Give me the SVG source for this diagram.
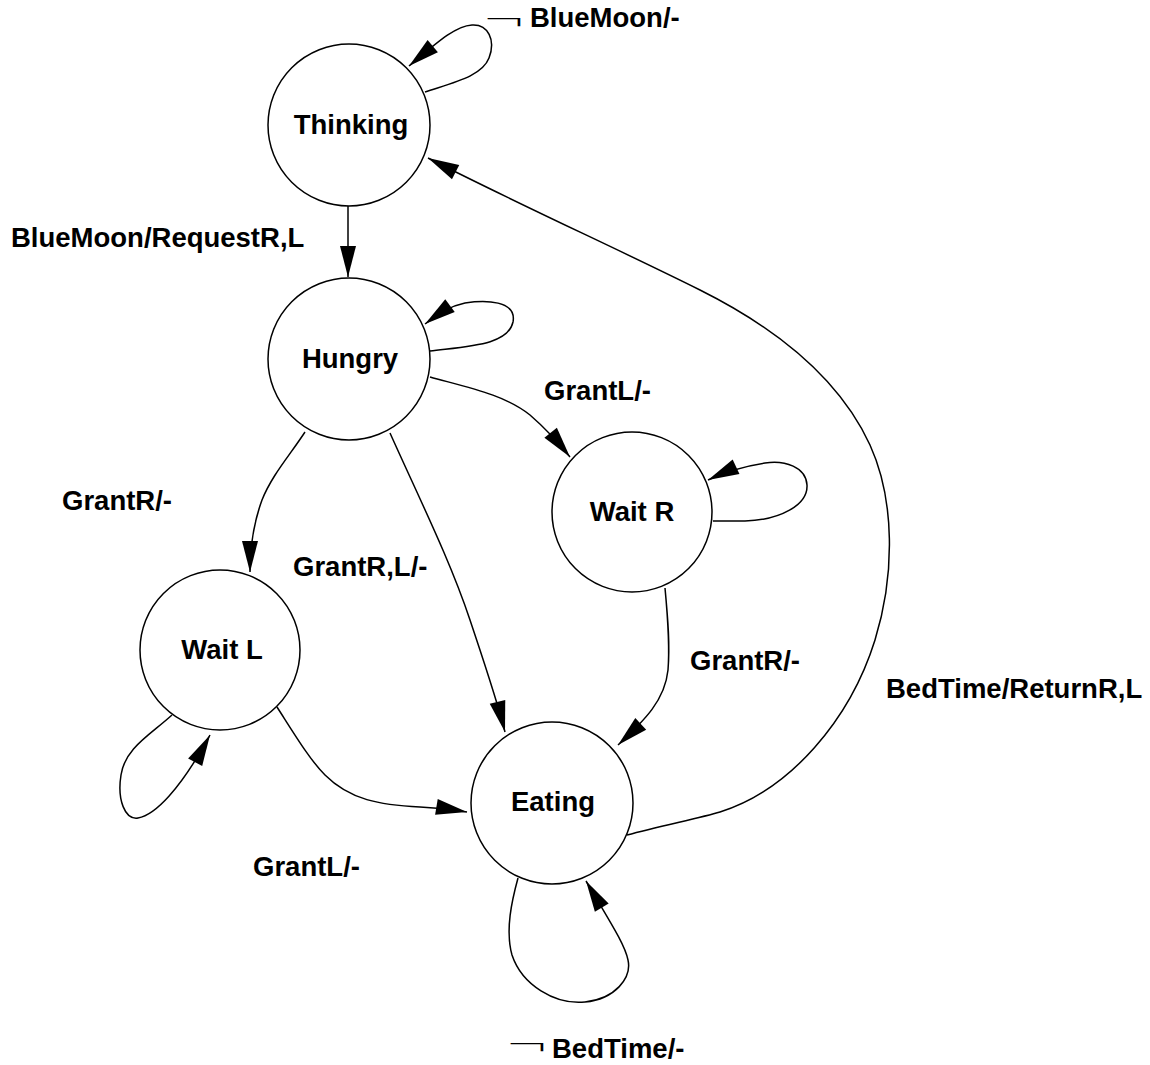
<svg xmlns="http://www.w3.org/2000/svg" width="1150" height="1065" viewBox="0 0 1150 1065">
  <style>
    .state { fill: #ffffff; stroke: #000000; stroke-width: 1.5; }
    .name { font-family: "Liberation Sans", Arial, Helvetica, sans-serif; font-weight: bold; font-size: 27.5px; fill: #000000; text-anchor: middle; }
    .label { font-family: "Liberation Sans", Arial, Helvetica, sans-serif; font-weight: bold; font-size: 27.5px; fill: #000000; }
    .not { font-family: "DejaVu Sans", sans-serif; font-weight: 200; font-size: 32px; fill: #000000; }
    .edge { fill: none; stroke: #000000; stroke-width: 1.5; marker-end: url(#arrow); }
  </style>
  <defs>
    <marker id="arrow" markerUnits="userSpaceOnUse" markerWidth="33" markerHeight="18" refX="31" refY="8" orient="auto" overflow="visible">
      <path d="M0,0 L31,8 L0,16 z" fill="#000000"/>
    </marker>
  </defs>
  <rect width="1150" height="1065" fill="#ffffff"/>

  <!-- transitions -->
  <g id="connectors">
    <!-- Thinking: self loop (not BlueMoon) -->
    <path class="edge" d="M425,92 C455,82 482,76 489,58 C496,40 488,24 472,25 C456,26 440,40 409,66"/>
    <!-- Thinking to Hungry -->
    <path class="edge" d="M348,206 L348,277"/>
    <!-- Hungry: self loop -->
    <path class="edge" d="M430,351 C470,346 508,345 513,322 C517,300 485,300 465,303 C450,306 440,313 425,324"/>
    <!-- Hungry to Wait R -->
    <path class="edge" d="M430,377 C470,388 505,395 530,415 C545,428 558,442 570,457"/>
    <!-- Hungry to Wait L -->
    <path class="edge" d="M305,432 C290,455 272,475 262,500 C254,522 250,545 250,572"/>
    <!-- Hungry to Eating -->
    <path class="edge" d="M390,433 C420,500 450,560 470,620 C485,665 497,700 505,732"/>
    <!-- Wait R: self loop -->
    <path class="edge" d="M713,521 L745,521 C780,520 808,505 807,485 C806,467 785,460 765,463 C745,466 725,472 708,480"/>
    <!-- Wait R to Eating -->
    <path class="edge" d="M665,588 C668,620 670,645 668,670 C665,700 645,720 618,745"/>
    <!-- Wait L: self loop -->
    <path class="edge" d="M172,715 C150,735 125,748 121,775 C117,800 125,820 138,818 C155,815 180,790 210,735"/>
    <!-- Wait L to Eating -->
    <path class="edge" d="M277,707 C295,735 310,760 325,775 C350,800 380,805 420,807 C440,808 455,810 467,812"/>
    <!-- Eating: self loop (not BedTime) -->
    <path class="edge" d="M518,878 C512,900 505,930 512,955 C522,985 555,1005 585,1002 C615,999 632,978 628,960 C625,945 612,925 586,881"/>
    <!-- Eating back to Thinking -->
    <path class="edge" d="M627,835 C660,826 700,818 720,812 C790,790 850,720 875,640 C895,575 895,500 870,445 C840,380 780,330 700,290 C620,250 520,205 428,158"/>
  </g>

  <!-- states -->
  <g id="thinking">
    <circle class="state" cx="349" cy="125" r="81"/>
    <text class="name" x="351" y="134">Thinking</text>
  </g>
  <g id="hungry">
    <circle class="state" cx="349" cy="359" r="81"/>
    <text class="name" x="350" y="368">Hungry</text>
  </g>
  <g id="wait-r">
    <circle class="state" cx="632" cy="512" r="80"/>
    <text class="name" x="632" y="521">Wait R</text>
  </g>
  <g id="wait-l">
    <circle class="state" cx="220" cy="650" r="80"/>
    <text class="name" x="222" y="659">Wait L</text>
  </g>
  <g id="eating">
    <circle class="state" cx="552" cy="803" r="81"/>
    <text class="name" x="553" y="811">Eating</text>
  </g>

  <!-- transition labels -->
  <g id="labels">
    <text class="not" transform="translate(482,31) scale(1.67,1)">¬</text>
    <text class="label" x="530" y="27">BlueMoon/-</text>
    <text class="label" x="11" y="247">BlueMoon/RequestR,L</text>
    <text class="label" x="544" y="400">GrantL/-</text>
    <text class="label" x="62" y="510">GrantR/-</text>
    <text class="label" x="293" y="576">GrantR,L/-</text>
    <text class="label" x="690" y="670">GrantR/-</text>
    <text class="label" x="886" y="698">BedTime/ReturnR,L</text>
    <text class="label" x="253" y="876">GrantL/-</text>
    <text class="not" transform="translate(505,1056) scale(1.67,1)">¬</text>
    <text class="label" x="552" y="1058">BedTime/-</text>
  </g>
</svg>
